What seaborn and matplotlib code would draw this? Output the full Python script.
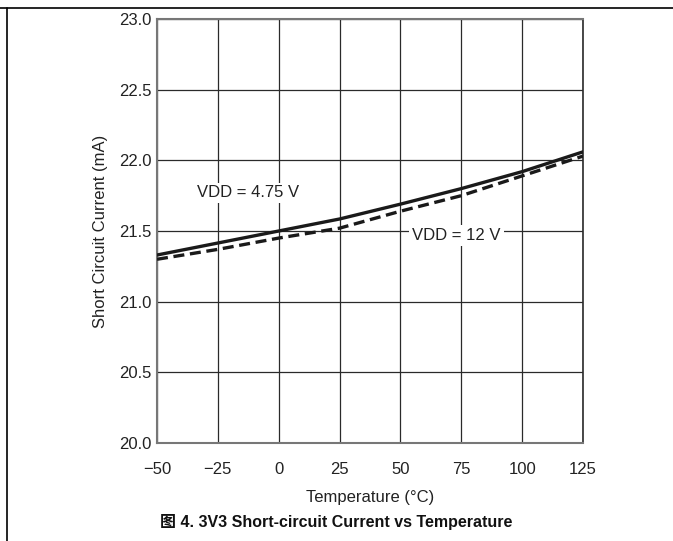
import matplotlib
matplotlib.use("Agg")
import matplotlib.pyplot as plt
from matplotlib.lines import Line2D
import seaborn as sns
import pandas as pd

# Short-circuit current vs temperature, two supply voltages
temperature = [-50, -25, 0, 25, 50, 75, 100, 125]
current_vdd_475 = [21.33, 21.415, 21.50, 21.585, 21.69, 21.80, 21.92, 22.06]
current_vdd_12 = [21.30, 21.37, 21.45, 21.52, 21.64, 21.75, 21.89, 22.03]
x_ticks = [-50, -25, 0, 25, 50, 75, 100, 125]
y_ticks = [20.0, 20.5, 21.0, 21.5, 22.0, 22.5, 23.0]

df = pd.DataFrame({
    "temp": temperature * 2,
    "current": current_vdd_475 + current_vdd_12,
    "supply": ["VDD = 4.75 V"] * len(temperature) + ["VDD = 12 V"] * len(temperature),
})

sns.set_theme(style="white")
plt.rcParams["font.family"] = ["Liberation Sans", "Noto Sans CJK SC"]

fig = plt.figure(figsize=(6.73, 5.41), dpi=100)
ax = fig.add_axes([157 / 673, 1 - 443 / 541, (583 - 157) / 673, (443 - 19) / 541])

sns.lineplot(data=df, x="temp", y="current", hue="supply", style="supply",
             palette=["#1a1a1a", "#1a1a1a"],
             dashes={"VDD = 4.75 V": "", "VDD = 12 V": (3.3, 1.7)},
             linewidth=2.4, legend=False, ax=ax, zorder=5)

ax.set_xlim(-50, 125)
ax.set_ylim(20.0, 23.0)
ax.set_xticks(x_ticks)
ax.set_yticks(y_ticks)
ax.set_yticklabels([f"{v:.1f}" for v in y_ticks])
ax.grid(True, color="#2a2a2a", linewidth=0.9)
ax.set_axisbelow(True)
ax.tick_params(axis="both", length=0, labelsize=12, colors="#222222")
ax.tick_params(axis="x", pad=14)
ax.tick_params(axis="y", pad=4)

for side in ("left", "top", "bottom"):
    ax.spines[side].set_color("#777777")
    ax.spines[side].set_linewidth(1.5)
ax.spines["right"].set_color("#2a2a2a")
ax.spines["right"].set_linewidth(1.2)

ax.set_xlabel("Temperature (°C)", fontsize=12, color="#222222", labelpad=9)
ax.set_ylabel("Short Circuit Current (mA)", fontsize=12, color="#222222", labelpad=8)

box = dict(facecolor="white", edgecolor="none", pad=2)
ax.text(-12.5, 21.77, "VDD = 4.75 V", fontsize=12, color="#222222",
        ha="center", va="center", bbox=box, zorder=4)
ax.text(73, 21.47, "VDD = 12 V", fontsize=12, color="#222222",
        ha="center", va="center", bbox=box, zorder=4)

fig.text(336 / 673, 1 - 522 / 541, "图 4. 3V3 Short-circuit Current vs Temperature",
         ha="center", va="center", fontsize=11.5, fontweight="bold", color="#111111")

# document frame lines
fig.add_artist(Line2D([0, 1], [1 - 8 / 541, 1 - 8 / 541], color="black", linewidth=1.2,
                      transform=fig.transFigure))
fig.add_artist(Line2D([7 / 673, 7 / 673], [0, 1 - 8 / 541], color="black", linewidth=1.2,
                      transform=fig.transFigure))

fig.savefig("out.png", dpi=100)
